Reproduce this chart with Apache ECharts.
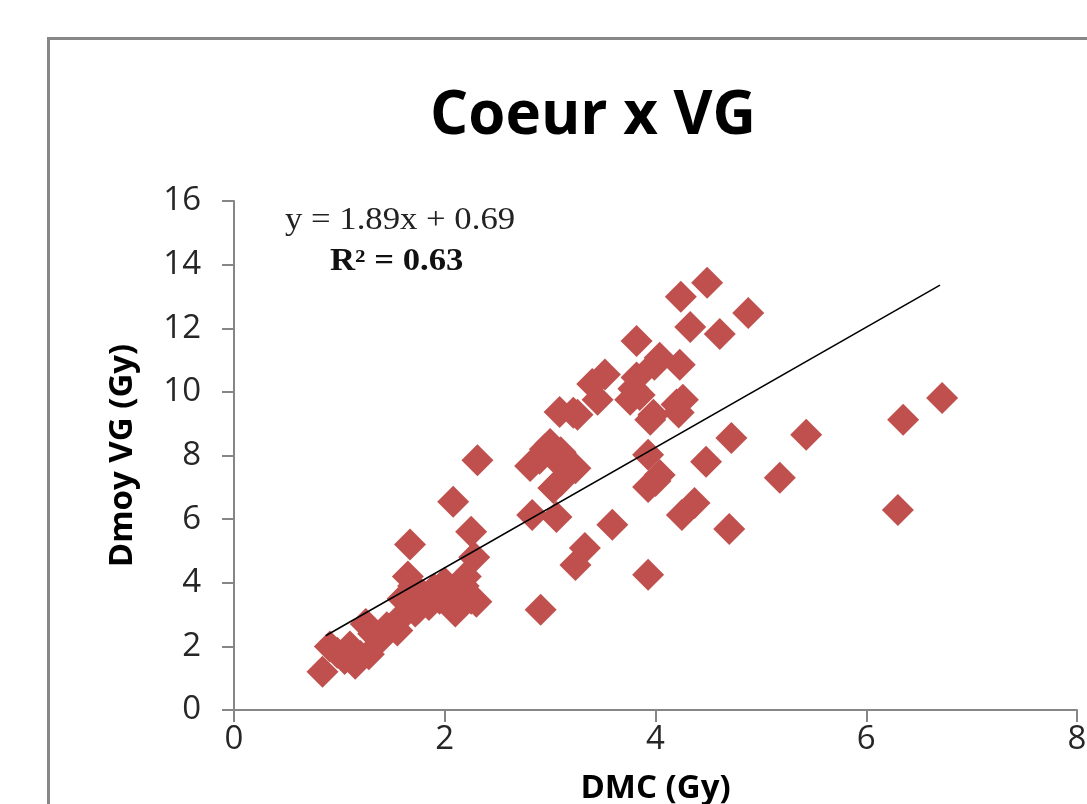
<!DOCTYPE html>
<html>
<head>
<meta charset="utf-8">
<script src="https://cdn.jsdelivr.net/npm/echarts@6/dist/echarts.min.js"></script>
<style>
html,body{margin:0;padding:0;background:#fff;}
#chart{width:1087px;height:804px;}
</style>
</head>
<body>
<div id="chart"></div>
<script>
// DMC (Gy) values
const dmc = [
  0.84, 0.91, 0.98, 1.05, 1.10, 1.15, 1.20, 1.28, 1.25, 1.32, 1.38, 1.55, 1.58, 1.60, 1.65, 1.67,
  1.72, 1.80, 1.85, 1.90, 2.00, 2.05, 2.10, 2.15, 2.20, 2.25, 2.30, 2.28, 2.25, 2.08, 2.31, 1.70,
  1.95, 2.18, 1.45, 1.75,
  2.81, 2.90, 2.95, 3.00, 3.06, 3.10, 3.24, 3.03, 3.10, 3.06, 2.83, 2.91, 3.09, 3.26, 3.33, 3.24,
  3.59, 3.93,
  3.45, 3.40, 3.52, 3.79, 3.82, 3.85, 3.82, 3.99, 4.04, 4.23, 3.98, 4.20, 4.26, 4.22, 3.93, 4.04,
  3.93, 4.00, 4.24, 4.33, 4.49, 4.61, 4.88, 4.25, 4.37, 4.48, 4.72, 4.70, 5.18, 5.43, 6.30, 6.35,
  6.72, 3.76, 3.95, 3.22
];
// Dmoy VG (Gy) values
const dmoyVG = [
  1.20, 2.00, 1.80, 1.60, 2.00, 1.45, 1.70, 1.75, 2.70, 2.40, 2.20, 2.50, 2.90, 3.50, 4.20, 5.20,
  3.10, 3.60, 3.30, 3.80, 4.00, 3.40, 3.10, 3.70, 4.20, 3.50, 3.40, 4.80, 5.60, 6.55, 7.85, 3.90,
  3.50, 3.90, 2.60, 3.20,
  7.67, 7.90, 8.20, 8.36, 7.86, 8.10, 7.60, 6.98, 7.20, 6.07, 6.13, 3.15, 9.37, 9.28, 5.09, 4.56,
  5.82, 4.25,
  9.75, 10.25, 10.55, 10.10, 10.45, 9.90, 11.60, 10.85, 11.07, 10.85, 9.28, 9.60, 9.75, 9.35, 8.02, 7.39,
  7.01, 7.20, 12.99, 12.04, 13.43, 11.82, 12.48, 6.13, 6.51, 7.80, 8.55, 5.69, 7.30, 8.65, 6.29, 9.12,
  9.81, 9.75, 9.12, 9.34
];
// Linear trendline: y = 1.89x + 0.69, drawn over the data range
const trendSlope = 1.89;
const trendIntercept = 0.69;
const trendXRange = [0.87, 6.70];
const xTicks = [0, 2, 4, 6, 8];
const yTicks = [0, 2, 4, 6, 8, 10, 12, 14, 16];

const points = dmc.map((x, i) => [x, dmoyVG[i]]);
const trendPts = trendXRange.map(x => [x, trendSlope * x + trendIntercept]);

const chart = echarts.init(document.getElementById('chart'));
const axisCol = '#868686';
chart.setOption({
  animation: false,
  backgroundColor: '#ffffff',
  title: {
    text: 'Coeur x VG',
    left: 588, top: 82,
    textAlign: 'center',
    textStyle: {fontFamily: 'Open Sans', fontWeight: 'bold', fontSize: 60, color: '#000'}
  },
  grid: {left: 234, top: 201, right: 10, bottom: 94, containLabel: false, outerBoundsMode: 'none'},
  xAxis: {
    type: 'value', min: xTicks[0], max: xTicks[xTicks.length - 1], interval: 2,
    name: 'DMC (Gy)', nameLocation: 'middle', nameGap: 62,
    nameTextStyle: {fontFamily: 'Open Sans', fontWeight: 'bold', fontSize: 33, color: '#000'},
    axisLine: {show: true, lineStyle: {color: axisCol, width: 2}},
    axisTick: {show: true, inside: false, length: 12, lineStyle: {color: axisCol, width: 2}},
    axisLabel: {fontFamily: 'Open Sans', fontSize: 33, color: '#262626', margin: 13},
    splitLine: {show: false}
  },
  yAxis: {
    type: 'value', min: yTicks[0], max: yTicks[yTicks.length - 1], interval: 2,
    name: 'Dmoy VG (Gy)', nameLocation: 'middle', nameGap: 95, nameRotate: 90,
    nameTextStyle: {fontFamily: 'Open Sans', fontWeight: 'bold', fontSize: 33, color: '#000'},
    axisLine: {show: true, lineStyle: {color: axisCol, width: 2}},
    axisTick: {show: true, inside: false, length: 12, lineStyle: {color: axisCol, width: 2}},
    axisLabel: {fontFamily: 'Open Sans', fontSize: 33, color: '#262626', margin: 33},
    splitLine: {show: false}
  },
  graphic: [
    {type: 'rect', left: 46, top: 36, z: 100, silent: true,
     shape: {x: 0, y: 0, width: 1200, height: 900},
     style: {fill: 'none', stroke: '#878787', lineWidth: 3}},
    {type: 'text', x: 285, y: 205, z: 50, scaleX: 1.12,
     style: {text: 'y = 1.89x + 0.69', fontFamily: 'Liberation Serif', fontSize: 31, fill: '#222'}},
    {type: 'text', x: 330, y: 246, z: 50, scaleX: 1.12,
     style: {text: 'R² = 0.63', fontFamily: 'Liberation Serif', fontWeight: 'bold', fontSize: 31, fill: '#111'}}
  ],
  series: [
    {
      type: 'scatter', data: points, symbol: 'diamond', symbolSize: 32,
      itemStyle: {color: '#C0504D', opacity: 1}, z: 2
    },
    {
      type: 'line', data: trendPts, symbol: 'none', z: 3,
      lineStyle: {color: '#000', width: 1.5}
    }
  ]
});
</script>
</body>
</html>
